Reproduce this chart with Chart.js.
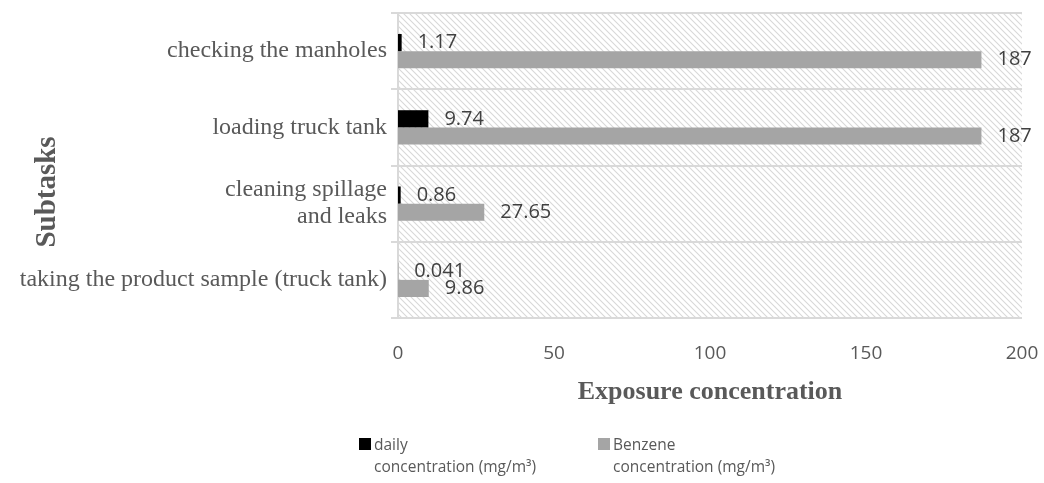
<!DOCTYPE html>
<html>
<head>
<meta charset="utf-8">
<script src="https://cdn.jsdelivr.net/npm/chart.js@4"></script>
<style>
body { margin: 0; background: #fff; }
#wrap { position: relative; width: 1044px; height: 483px; }
.leg { position: absolute; font: 15.5px "Open Sans", sans-serif; color: #595959; line-height: 22px; }
.leg .box { position: absolute; left: -15px; top: 5px; width: 12px; height: 12px; }
</style>
</head>
<body>
<div id="wrap">
  <canvas id="chart" width="1044" height="483"></canvas>
  <div class="leg" style="left:374px; top:433px;"><span class="box" style="background:#000"></span>daily<br>concentration (mg/m³)</div>
  <div class="leg" style="left:613px; top:433px;"><span class="box" style="background:#a5a5a5"></span>Benzene<br>concentration (mg/m³)</div>
</div>
<script>
// values
var categories = ['checking the manholes', 'loading truck tank', ['cleaning spillage', 'and leaks'], 'taking the product sample (truck tank)'];
var dailyConc = [1.17, 9.74, 0.86, 0.041];
var benzeneConc = [187, 187, 27.65, 9.86];
var seriesNames = ['daily concentration (mg/m³)', 'Benzene concentration (mg/m³)'];
var xMin = 0, xMax = 200, xStep = 50;
var xTitle = 'Exposure concentration';
var yTitle = 'Subtasks';

var TEXT = '#595959';
var GRID = '#d9d9d9';

// light downward diagonal hatch behind the plot
function makeHatch(ctx){
	var c = document.createElement('canvas');
	c.width = 6; c.height = 6;
	var g = c.getContext('2d');
	g.strokeStyle = '#d8d8d8';
	g.lineWidth = 1.1;
	g.beginPath();
	g.moveTo(-1, -1); g.lineTo(7, 7);
	g.moveTo(-1, 5); g.lineTo(1, 7);
	g.moveTo(5, -1); g.lineTo(7, 1);
	g.stroke();
	return ctx.createPattern(c, 'repeat');
}

var hatchPlugin = {
	id: 'hatch',
	beforeDraw: function(chart){
		var a = chart.chartArea, ctx = chart.ctx;
		ctx.save();
		ctx.fillStyle = makeHatch(ctx);
		ctx.fillRect(a.left, a.top, a.right - a.left, a.bottom - a.top);
		ctx.restore();
	}
};

var labelPlugin = {
	id: 'barLabels',
	afterDatasetsDraw: function(chart){
		var ctx = chart.ctx;
		ctx.save();
		ctx.font = '20px "Open Sans", sans-serif';
		ctx.fillStyle = '#404040';
		ctx.textAlign = 'left';
		ctx.textBaseline = 'middle';
		chart.data.datasets.forEach(function(ds, di){
			chart.getDatasetMeta(di).data.forEach(function(bar, i){
				ctx.fillText(String(ds.data[i]), bar.x + 16, bar.y);
			});
		});
		ctx.restore();
	}
};

var yTitlePlugin = {
	id: 'yTitle',
	afterDraw: function(chart){
		var ctx = chart.ctx;
		ctx.save();
		ctx.translate(48, 192);
		ctx.rotate(-Math.PI / 2);
		ctx.font = 'bold 29px "Liberation Serif", serif';
		ctx.fillStyle = TEXT;
		ctx.textAlign = 'center';
		ctx.textBaseline = 'middle';
		ctx.fillText(yTitle, 0, 0);
		ctx.restore();
	}
};

new Chart(document.getElementById('chart'), {
	type: 'bar',
	data: {
		labels: categories,
		datasets: [
			{ label: seriesNames[0], data: dailyConc, backgroundColor: '#000000' },
			{ label: seriesNames[1], data: benzeneConc, backgroundColor: '#a5a5a5' }
		]
	},
	options: {
		indexAxis: 'y',
		responsive: false,
		animation: false,
		devicePixelRatio: 1,
		categoryPercentage: 0.45,
		barPercentage: 1,
		layout: { padding: { top: 13, right: 22, bottom: 75, left: 0 } },
		plugins: { legend: { display: false }, tooltip: { enabled: false } },
		scales: {
			x: {
				min: xMin, max: xMax,
				ticks: { stepSize: xStep, padding: 24, color: TEXT, font: { family: '"Open Sans", sans-serif', size: 19 } },
				grid: { display: false, drawTicks: false },
				border: { display: false },
				title: { display: true, text: xTitle, color: TEXT, padding: { top: 4, bottom: 0 },
					font: { family: '"Liberation Serif", serif', size: 26, weight: 'bold' } },
				afterFit: function(s){ s.height = 90; s.paddingLeft = 0; s.paddingRight = 0; }
			},
			y: {
				ticks: { padding: 4, color: TEXT, font: { family: '"Liberation Serif", serif', size: 24, lineHeight: 1.12 } },
				grid: { color: GRID, lineWidth: 2, tickLength: 7 },
				border: { color: GRID, width: 2 },
				afterFit: function(s){ s.width = 398; s.paddingTop = 0; s.paddingBottom = 0; }
			}
		}
	},
	plugins: [hatchPlugin, labelPlugin, yTitlePlugin]
});
</script>
</body>
</html>
